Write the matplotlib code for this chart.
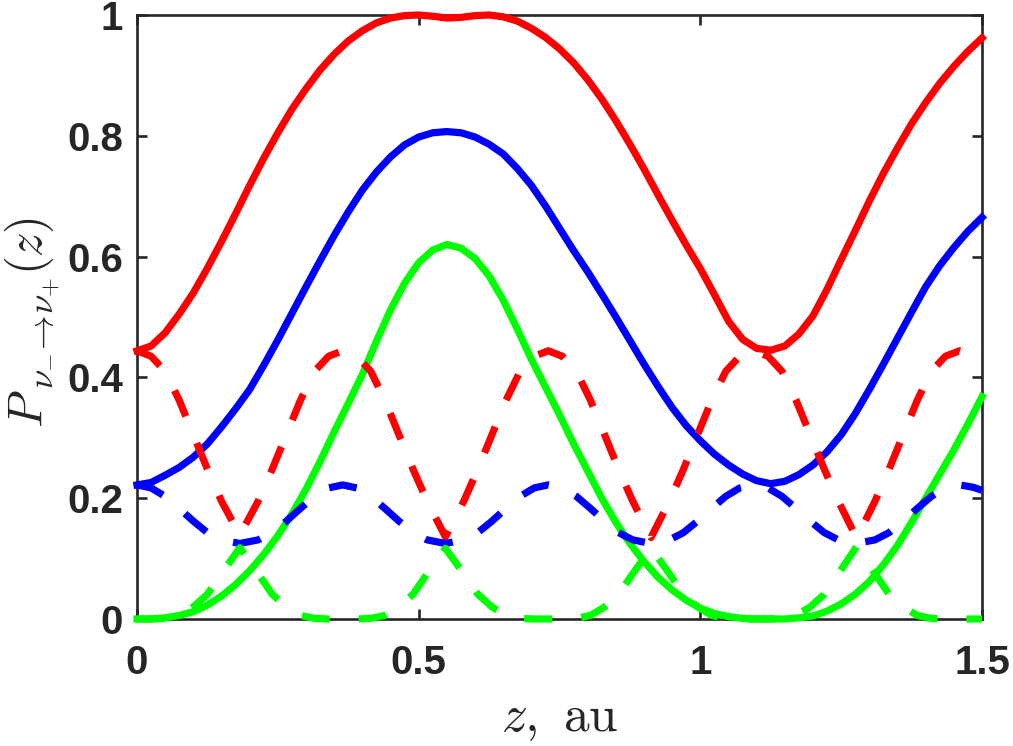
import matplotlib
matplotlib.use('Agg')
import matplotlib.pyplot as plt

# ---------------- data ----------------
z_solid = [0.0, 0.025, 0.05, 0.075, 0.1, 0.125, 0.15, 0.175, 0.2, 0.225, 0.25, 0.275, 0.3,
           0.325, 0.35, 0.375, 0.4, 0.425, 0.45, 0.475, 0.5, 0.525, 0.55, 0.575, 0.6,
           0.625, 0.65, 0.675, 0.7, 0.725, 0.75, 0.775, 0.8, 0.825, 0.85, 0.875, 0.9,
           0.925, 0.95, 0.975, 1.0, 1.025, 1.05, 1.075, 1.1, 1.125, 1.15, 1.175, 1.2,
           1.225, 1.25, 1.275, 1.3, 1.325, 1.35, 1.375, 1.4, 1.425, 1.45, 1.475, 1.5]
red_solid = [0.444, 0.452, 0.474, 0.505, 0.540, 0.581, 0.625, 0.671, 0.718, 0.763, 0.805, 0.844, 0.878,
             0.909, 0.935, 0.957, 0.974, 0.987, 0.995, 0.999, 1.000, 0.998, 0.995, 0.996, 0.999,
             1.000, 0.997, 0.990, 0.978, 0.963, 0.944, 0.921, 0.893, 0.861, 0.825, 0.786, 0.745,
             0.702, 0.660, 0.619, 0.580, 0.537, 0.493, 0.463, 0.448, 0.445, 0.452, 0.472, 0.502,
             0.546, 0.595, 0.643, 0.692, 0.738, 0.780, 0.820, 0.855, 0.887, 0.915, 0.940, 0.962]
blue_solid = [0.222, 0.226, 0.238, 0.251, 0.268, 0.290, 0.318, 0.348, 0.380, 0.420, 0.462, 0.506, 0.550,
              0.593, 0.635, 0.674, 0.710, 0.740, 0.765, 0.785, 0.798, 0.805, 0.807, 0.805, 0.798,
              0.786, 0.770, 0.746, 0.718, 0.684, 0.647, 0.610, 0.575, 0.538, 0.500, 0.461, 0.422,
              0.385, 0.350, 0.320, 0.295, 0.273, 0.255, 0.240, 0.229, 0.224, 0.228, 0.239, 0.255,
              0.277, 0.305, 0.340, 0.380, 0.422, 0.465, 0.508, 0.550, 0.585, 0.615, 0.642, 0.665]
green_solid = [0.000, 0.000, 0.002, 0.006, 0.012, 0.023, 0.038, 0.057, 0.080, 0.107, 0.138, 0.174, 0.215,
               0.261, 0.310, 0.357, 0.405, 0.460, 0.512, 0.556, 0.590, 0.611, 0.620, 0.614, 0.597,
               0.568, 0.528, 0.480, 0.430, 0.384, 0.338, 0.290, 0.245, 0.200, 0.160, 0.125, 0.095,
               0.069, 0.048, 0.031, 0.018, 0.009, 0.004, 0.001, 0.000, 0.000, 0.000, 0.002, 0.005,
               0.013, 0.025, 0.041, 0.062, 0.090, 0.122, 0.160, 0.200, 0.240, 0.280, 0.323, 0.368]

z_dashed = [0.0, 0.025, 0.05, 0.075, 0.1, 0.125, 0.15, 0.1825, 0.215, 0.24, 0.265, 0.29, 0.315, 0.34,
            0.365, 0.39, 0.415, 0.44, 0.465, 0.49, 0.515, 0.5475, 0.58, 0.605, 0.63, 0.655, 0.68, 0.705,
            0.73, 0.755, 0.78, 0.805, 0.83, 0.855, 0.88, 0.9125, 0.945, 0.97, 0.995, 1.02, 1.045, 1.07,
            1.095, 1.12, 1.145, 1.17, 1.195, 1.22, 1.245, 1.2775, 1.31, 1.335, 1.36, 1.385, 1.41, 1.435,
            1.46, 1.485, 1.5]
red_dashed = [0.444, 0.435, 0.410, 0.362, 0.305, 0.248, 0.195, 0.139, 0.195, 0.248, 0.305, 0.362, 0.410, 0.435,
              0.444, 0.435, 0.410, 0.362, 0.305, 0.248, 0.195, 0.136, 0.195, 0.248, 0.305, 0.362, 0.410, 0.435,
              0.444, 0.435, 0.410, 0.362, 0.305, 0.248, 0.195, 0.135, 0.195, 0.248, 0.305, 0.362, 0.410, 0.435,
              0.444, 0.435, 0.410, 0.362, 0.305, 0.248, 0.195, 0.134, 0.195, 0.248, 0.305, 0.362, 0.410, 0.435,
              0.444, 0.436, 0.425]
blue_dashed = [0.222, 0.217, 0.203, 0.183, 0.162, 0.143, 0.131, 0.125, 0.131, 0.143, 0.162, 0.183, 0.203, 0.217,
               0.222, 0.217, 0.203, 0.183, 0.162, 0.143, 0.131, 0.125, 0.131, 0.143, 0.162, 0.183, 0.203, 0.217,
               0.222, 0.217, 0.203, 0.183, 0.162, 0.143, 0.131, 0.125, 0.131, 0.143, 0.162, 0.183, 0.203, 0.217,
               0.222, 0.217, 0.203, 0.183, 0.162, 0.143, 0.131, 0.125, 0.131, 0.143, 0.162, 0.183, 0.203, 0.217,
               0.222, 0.218, 0.213]
green_dashed = [0.000, 0.000, 0.001, 0.006, 0.020, 0.041, 0.075, 0.118, 0.075, 0.041, 0.020, 0.006, 0.001, 0.000,
                0.000, 0.000, 0.001, 0.006, 0.020, 0.041, 0.075, 0.117, 0.075, 0.041, 0.020, 0.006, 0.001, 0.000,
                0.000, 0.000, 0.001, 0.006, 0.020, 0.041, 0.075, 0.117, 0.075, 0.041, 0.020, 0.006, 0.001, 0.000,
                0.000, 0.000, 0.001, 0.006, 0.020, 0.041, 0.075, 0.120, 0.075, 0.041, 0.020, 0.006, 0.001, 0.000,
                0.000, 0.000, 0.000]

x_ticks = [0, 0.5, 1, 1.5]
x_tick_labels = ['0', '0.5', '1', '1.5']
y_ticks = [0, 0.2, 0.4, 0.6, 0.8, 1.0]
y_tick_labels = ['0', '0.2', '0.4', '0.6', '0.8', '1']

# ---------------- figure ----------------
plt.rcParams['mathtext.fontset'] = 'cm'
axis_color = '#262626'
W, H = 1013, 746

fig = plt.figure(figsize=(W / 100, H / 100), dpi=100)
ax = fig.add_axes([137 / W, 1 - 619 / H, (982 - 137) / W, (619 - 15) / H])

lw = 5.2
dash = (0, (3.9, 4.0))
ax.plot(z_solid, red_solid, color=(1, 0, 0), lw=lw, zorder=3, clip_on=False)
ax.plot(z_solid, blue_solid, color=(0, 0, 1), lw=lw, zorder=3, clip_on=False)
ax.plot(z_solid, green_solid, color=(0, 1, 0), lw=lw, zorder=3, clip_on=False)
ax.plot(z_dashed, red_dashed, color=(1, 0, 0), lw=lw, ls=dash, zorder=4, clip_on=False)
ax.plot(z_dashed, blue_dashed, color=(0, 0, 1), lw=lw, ls=dash, zorder=4, clip_on=False)
ax.plot(z_dashed, green_dashed, color=(0, 1, 0), lw=lw, ls=dash, zorder=4, clip_on=False)

ax.set_xlim(0, 1.5)
ax.set_ylim(0, 1)

for s in ax.spines.values():
    s.set_color(axis_color)
    s.set_linewidth(1.9)

ax.set_xticks(x_ticks)
ax.set_xticklabels(x_tick_labels)
ax.set_yticks(y_ticks)
ax.set_yticklabels(y_tick_labels)
ax.tick_params(direction='in', length=7.5, width=1.9, color=axis_color,
               top=True, right=True, labelcolor=axis_color)
ax.tick_params(axis='x', pad=18)
ax.tick_params(axis='y', pad=10)
for lab in ax.get_xticklabels() + ax.get_yticklabels():
    lab.set_fontfamily('Liberation Sans')
    lab.set_fontweight('bold')
    lab.set_fontsize(29)

ax.set_xlabel(r'$z,\ \mathrm{au}$', fontsize=37, color=axis_color, labelpad=8)

# y label composed of pieces so that the subscript has the reference's size
def vtext(x_px, y_px, s, size):
    return fig.text(x_px / W, 1 - y_px / H, s, rotation=90, rotation_mode='anchor',
                    ha='left', va='baseline', fontsize=size, color=axis_color)

t_p = vtext(42, 428, r'$P$', 35)
fig.canvas.draw()
r = fig.canvas.get_renderer()
bb = t_p.get_window_extent(r)
top_p = H - bb.y1
t_sub = vtext(53, top_p - 1, r'$\nu_{-}\!\to\!\nu_{+}$', 25)
fig.canvas.draw()
bb2 = t_sub.get_window_extent(r)
top_sub = H - bb2.y1
vtext(42, top_sub - 2, r'$(z)$', 35)

fig.savefig('out.png', dpi=100)
